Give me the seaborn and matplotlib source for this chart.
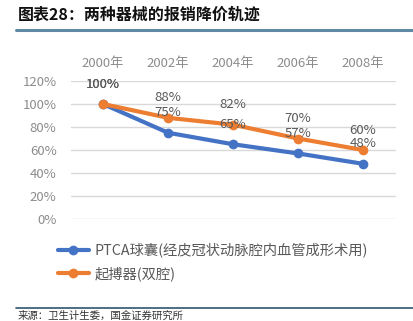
import matplotlib
matplotlib.use("Agg")
import matplotlib.pyplot as plt
from matplotlib.lines import Line2D
import seaborn as sns
import pandas as pd

years = ["2000年", "2002年", "2004年", "2006年", "2008年"]
series_names = ["PTCA球囊(经皮冠状动脉腔内血管成形术用)", "起搏器(双腔)"]
ptca = [100, 75, 65, 57, 48]
pacer = [100, 88, 82, 70, 60]
yticks = [0, 20, 40, 60, 80, 100, 120]
colors = ["#4472C4", "#ED7D31"]

sns.set_theme(style="white")
plt.rcParams["font.family"] = ["Noto Sans CJK SC", "DejaVu Sans"]

df = pd.DataFrame({
    "year": years * 2,
    "value": ptca + pacer,
    "series": [series_names[0]] * len(years) + [series_names[1]] * len(years),
})

W, H = 413, 321
fig = plt.figure(figsize=(W / 100, H / 100), dpi=100)
ax = fig.add_axes([70.5 / W, (H - 219) / H, 325 / W, 138 / H])

sns.lineplot(data=df, x="year", y="value", hue="series", palette=colors,
             marker="o", markersize=7, markeredgewidth=0, linewidth=3,
             sort=False, ax=ax, legend=True)

ax.set_xlim(-0.5, 4.5)
ax.set_ylim(0, 120)
ax.set_yticks(yticks)
ax.set_yticklabels([f"{v}%" for v in yticks])
ax.xaxis.tick_top()
ax.set_xlabel("")
ax.set_ylabel("")
ax.tick_params(axis="both", length=0, colors="#8C8C8C", labelsize=9.5)
ax.tick_params(axis="x", pad=8)
ax.tick_params(axis="y", pad=10)
for s in ax.spines.values():
    s.set_visible(False)
ax.grid(axis="y", color="#D9D9D9", linewidth=1)
ax.set_axisbelow(True)

for vals in (ptca, pacer):
    for i, v in enumerate(vals):
        ax.annotate(f"{v}%", (i, v), xytext=(0, 20), textcoords="offset pixels",
                    ha="center", va="center", fontsize=9.5, color="#595959")

handles, labels = ax.get_legend_handles_labels()
ax.get_legend().remove()
fig.legend(handles, labels, loc="upper left", bbox_to_anchor=(52 / W, (H - 237) / H),
           frameon=False, fontsize=10.3, labelcolor="#595959", handlelength=2.2,
           handletextpad=0.4, labelspacing=0.6, borderaxespad=0)

fig.text(18 / W, (H - 15) / H, "图表28：两种器械的报销降价轨迹", fontsize=11.5,
         fontweight="bold", style="italic", color="#111111", va="center", ha="left")
fig.add_artist(Line2D([16 / W, 1], [(H - 30) / H] * 2, color="#5E8AA5", linewidth=2.2))
fig.add_artist(Line2D([16 / W, 1], [(H - 308) / H] * 2, color="#2E5570", linewidth=1.2))
fig.text(18 / W, 0.5 / H, "来源：卫生计生委，国金证券研究所", fontsize=7.5,
         color="#333333", va="bottom", ha="left")

fig.savefig("out.png", dpi=100)
